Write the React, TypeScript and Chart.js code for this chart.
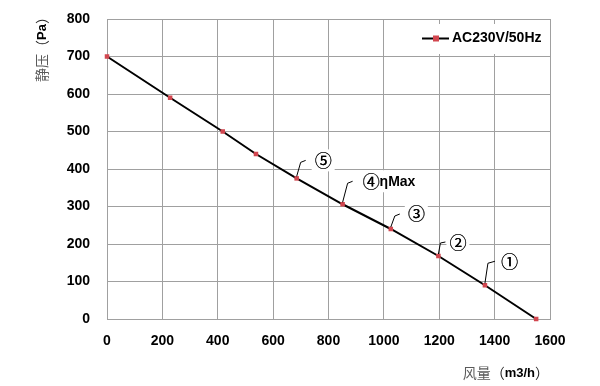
import React, { useEffect, useRef } from "react";
import { Chart, registerables } from "chart.js";

Chart.register(...registerables);

const flow = [0, 228, 418, 538, 685, 851, 1025, 1197, 1365, 1550];
const pressure = [700, 590, 500, 440, 375, 306, 240, 168, 90, 0];
const pointLabels = ["", "", "", "", "⑤", "④ηMax", "③", "②", "①", ""];
const seriesName = "AC230V/50Hz";
const yTitleParts = ["静压", "（", "Pa", "）"];
const xTitleParts = ["风量", "（", "m3/h", "）"];

// label placement style: [leader dx1, dy1, dx2, dy2, text left dx, text dy]
const labelStyle: Record<number, number[]> = {
  4: [4, -16, 9, -18, 18, -18],
  5: [5, -21, 10, -23, 20, -23],
  6: [4, -13, 9, -15, 17, -15],
  7: [2, -13, 7, -14, 11, -13],
  8: [3, -22, 10, -24, 16, -24],
};

const GRID = "#a0a0a0";
const RED = "#d2464f";
const CJK = '"Noto Sans CJK SC"';
const LAT = '"Liberation Sans"';

function drawParts(ctx: CanvasRenderingContext2D, parts: string[], x: number, y: number, align: "center" | "right") {
  const fonts = [`14px ${CJK}`, `14px ${CJK}`, `bold 13px ${LAT}`, `14px ${CJK}`];
  const colors = ["#5a5a5a", "#222", "#000", "#222"];
  let total = 0;
  const widths = parts.map((p, i) => {
    ctx.font = fonts[i];
    const w = ctx.measureText(p).width;
    total += w;
    return w;
  });
  let cx = align === "center" ? x - total / 2 : x - total;
  ctx.textBaseline = "middle";
  ctx.textAlign = "left";
  parts.forEach((p, i) => {
    ctx.font = fonts[i];
    ctx.fillStyle = colors[i];
    ctx.fillText(p, cx, y);
    cx += widths[i];
  });
}

function drawLabelText(ctx: CanvasRenderingContext2D, text: string, x: number, y: number, measureOnly = false) {
  const first = text[0];
  const rest = text.slice(1);
  ctx.font = `17px ${CJK}`;
  const w1 = ctx.measureText(first).width;
  ctx.font = `bold 14px ${LAT}`;
  const w2 = rest ? ctx.measureText(rest).width : 0;
  if (!measureOnly) {
    ctx.textBaseline = "middle";
    ctx.textAlign = "left";
    ctx.fillStyle = "#000";
    ctx.font = `17px ${CJK}`;
    ctx.fillText(first, x, y);
    ctx.fillText(first, x + 0.4, y);
    if (rest) {
      ctx.font = `bold 14px ${LAT}`;
      ctx.fillText(rest, x + w1, y + 1);
    }
  }
  return w1 + w2;
}

const overlayPlugin = {
  id: "overlay",
  beforeDatasetsDraw(chart: any) {
    const ctx = chart.ctx as CanvasRenderingContext2D;
    const meta = chart.getDatasetMeta(0);
    ctx.save();
    ctx.fillStyle = "#fff";
    const area = chart.chartArea;
    ctx.fillRect(area.right - 144, area.top + 5, 142, 30);
    pointLabels.forEach((t, i) => {
      if (!t) return;
      const s = labelStyle[i];
      const p = meta.data[i];
      const w = drawLabelText(ctx, t, 0, 0, true);
      const x = p.x + s[4];
      const y = p.y + s[5];
      ctx.fillStyle = "#fff";
      ctx.fillRect(x - 3, y - 11, w + 6, 22);
    });
    ctx.restore();
  },
  afterDatasetsDraw(chart: any) {
    const ctx = chart.ctx as CanvasRenderingContext2D;
    const meta = chart.getDatasetMeta(0);
    const area = chart.chartArea;
    ctx.save();
    pointLabels.forEach((t, i) => {
      if (!t) return;
      const s = labelStyle[i];
      const p = meta.data[i];
      ctx.strokeStyle = "#000";
      ctx.lineWidth = 1;
      ctx.beginPath();
      ctx.moveTo(p.x, p.y - 2);
      ctx.lineTo(p.x + s[0], p.y + s[1]);
      ctx.lineTo(p.x + s[2], p.y + s[3]);
      ctx.stroke();
      drawLabelText(ctx, t, p.x + s[4], p.y + s[5]);
    });
    const ly = area.top + 19.5;
    const lx = area.right - 128;
    ctx.strokeStyle = "#000";
    ctx.lineWidth = 2;
    ctx.beginPath();
    ctx.moveTo(lx, ly);
    ctx.lineTo(lx + 27, ly);
    ctx.stroke();
    ctx.fillStyle = RED;
    ctx.fillRect(lx + 11, ly - 3, 6, 6);
    ctx.fillStyle = "#000";
    ctx.font = `bold 14px ${LAT}`;
    ctx.textAlign = "left";
    ctx.textBaseline = "middle";
    ctx.fillText(seriesName, lx + 30, ly);
    ctx.save();
    ctx.translate(42, 46);
    ctx.rotate(-Math.PI / 2);
    drawParts(ctx, yTitleParts, 0, 0, "center");
    ctx.restore();
    drawParts(ctx, xTitleParts, 549, 373, "right");
    ctx.restore();
  },
};

export default function App() {
  const ref = useRef<HTMLCanvasElement | null>(null);
  useEffect(() => {
    if (!ref.current) return;
    const chart = new Chart(ref.current, {
      type: "line",
      data: {
        datasets: [
          {
            label: seriesName,
            data: flow.map((x, i) => ({ x, y: pressure[i] })),
            borderColor: "#000",
            borderWidth: 2,
            pointStyle: "rect",
            pointRadius: 3.2,
            pointBackgroundColor: RED,
            pointBorderColor: RED,
            pointBorderWidth: 0,
            tension: 0,
            clip: false as any,
          },
        ],
      },
      options: {
        animation: false,
        responsive: false,
        layout: { autoPadding: false, padding: { left: 0, right: 50, top: 19, bottom: 0 } },
        plugins: { legend: { display: false }, tooltip: { enabled: false } },
        scales: {
          x: {
            type: "linear",
            min: 0,
            max: 1600,
            afterFit: (s: any) => {
              s.height = 67;
              s.paddingLeft = 0;
              s.paddingRight = 0;
            },
            ticks: {
              stepSize: 200,
              padding: 14,
              color: "#000",
              font: { family: "Liberation Sans", weight: "bold", size: 14 },
              maxRotation: 0,
              callback: (v: any) => String(v),
            },
            grid: { color: GRID, lineWidth: 1, drawTicks: false },
            border: { color: GRID, width: 1 },
          },
          y: {
            min: 0,
            max: 800,
            afterFit: (s: any) => {
              s.width = 107;
              s.paddingTop = 0;
              s.paddingBottom = 0;
            },
            ticks: {
              stepSize: 100,
              padding: 17,
              color: "#000",
              font: { family: "Liberation Sans", weight: "bold", size: 14 },
              callback: (v: any) => String(v),
            },
            grid: { color: GRID, lineWidth: 1, drawTicks: false },
            border: { color: GRID, width: 1 },
          },
        },
      },
      plugins: [overlayPlugin],
    });
    return () => chart.destroy();
  }, []);
  return (
    <div style={{ position: "fixed", left: 0, top: 0, width: 600, height: 386, background: "#fff" }}>
      <canvas ref={ref} width={600} height={386} style={{ width: 600, height: 386, display: "block" }} />
    </div>
  );
}
